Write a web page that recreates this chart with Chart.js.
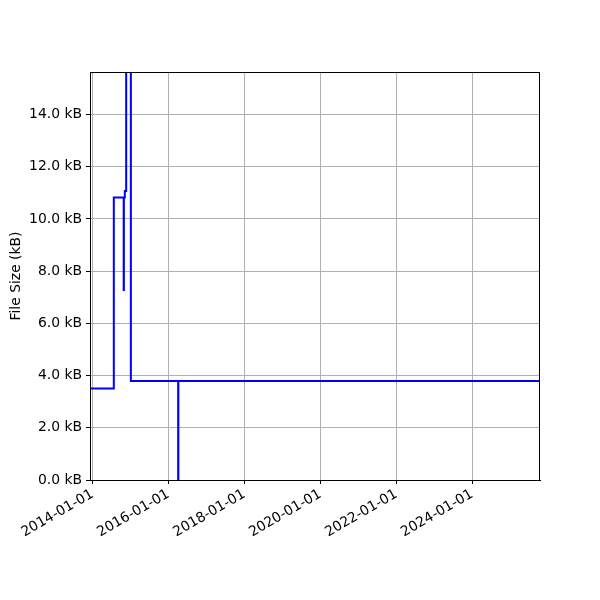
<!DOCTYPE html>
<html lang="en">
<head>
    <meta charset="UTF-8">
    <title>File Size</title>
    <script src="https://cdn.jsdelivr.net/npm/chart.js"></script>
    <style>
        body { margin: 0; background: #fff; }
        #wrap { width: 600px; height: 600px; }
    </style>
</head>
<body>
    <div id="wrap"><canvas id="sizeChart" width="600" height="600"></canvas></div>
    <script>
        // dates where the size changes, and the size (kB) from that date on
        const changeDates = ['2013-12-08', '2014-07-25', '2014-10-28', '2014-10-30', '2014-11-08',
                             '2014-11-21', '2015-01-05', '2016-04-04', '2016-04-06', '2025-10-15'];
        const fileSizes = [3.51, 10.82, 7.28, 10.82, 11.07, 20.0, 3.79, 0.0, 3.79, 3.79];
        const xTickDates = ['2014-01-01', '2016-01-01', '2018-01-01', '2020-01-01', '2022-01-01', '2024-01-01'];
        const yTicks = [0, 2, 4, 6, 8, 10, 12, 14];
        const xStart = '2013-12-08';
        const xEnd = '2025-10-15';
        const yMax = 15.63;

        function toTime(s) {
            let p = s.split('-');
            return Date.UTC(+p[0], +p[1] - 1, +p[2]);
        }
        function fmtDate(t) {
            return new Date(t).toISOString().slice(0, 10);
        }

        let points = changeDates.map((d, i) => ({x: toTime(d), y: fileSizes[i]}));
        let font = {family: 'DejaVu Sans', size: 13.9};

        // matplotlib-style frame round the plot area
        const frame = {
            id: 'frame',
            afterDatasetsDraw(chart) {
                let a = chart.chartArea, ctx = chart.ctx;
                ctx.save();
                ctx.strokeStyle = '#000';
                ctx.lineWidth = 1;
                ctx.strokeRect(a.left + 0.5, a.top + 0.5, a.right - a.left - 1, a.bottom - a.top);
                ctx.restore();
            }
        };

        new Chart(document.getElementById('sizeChart').getContext('2d'), {
            type: 'line',
            data: {
                datasets: [{
                    label: 'File Size',
                    data: points,
                    stepped: 'before',
                    borderColor: '#0000ff',
                    borderWidth: 2,
                    pointRadius: 0,
                    fill: false
                }]
            },
            options: {
                responsive: false,
                animation: false,
                layout: {padding: {left: 0, top: 72, right: 60, bottom: 0}},
                plugins: {legend: {display: false}, tooltip: {enabled: false}},
                scales: {
                    x: {
                        type: 'linear',
                        min: toTime(xStart),
                        max: toTime(xEnd),
                        afterBuildTicks: s => { s.ticks = xTickDates.map(d => ({value: toTime(d)})); },
                        afterFit: s => { s.height = 120; },
                        ticks: {
                            callback: v => fmtDate(v),
                            font: font, color: '#000',
                            minRotation: 30, maxRotation: 30,
                            padding: 2, autoSkip: false
                        },
                        grid: {color: '#b0b0b0', lineWidth: 1, tickColor: '#000', tickLength: 4},
                        border: {color: '#000'}
                    },
                    y: {
                        min: 0,
                        max: yMax,
                        afterBuildTicks: s => { s.ticks = yTicks.map(v => ({value: v})); },
                        afterFit: s => { s.width = 90; },
                        ticks: {
                            callback: v => v.toFixed(1) + ' kB',
                            font: font, color: '#000', padding: 4
                        },
                        grid: {color: '#b0b0b0', lineWidth: 1, tickColor: '#000', tickLength: 4},
                        border: {color: '#000'},
                        title: {
                            display: true, text: 'File Size (kB)',
                            font: font, color: '#000',
                            padding: {top: 8, bottom: 4}
                        }
                    }
                }
            },
            plugins: [frame]
        });
    </script>
</body>
</html>
